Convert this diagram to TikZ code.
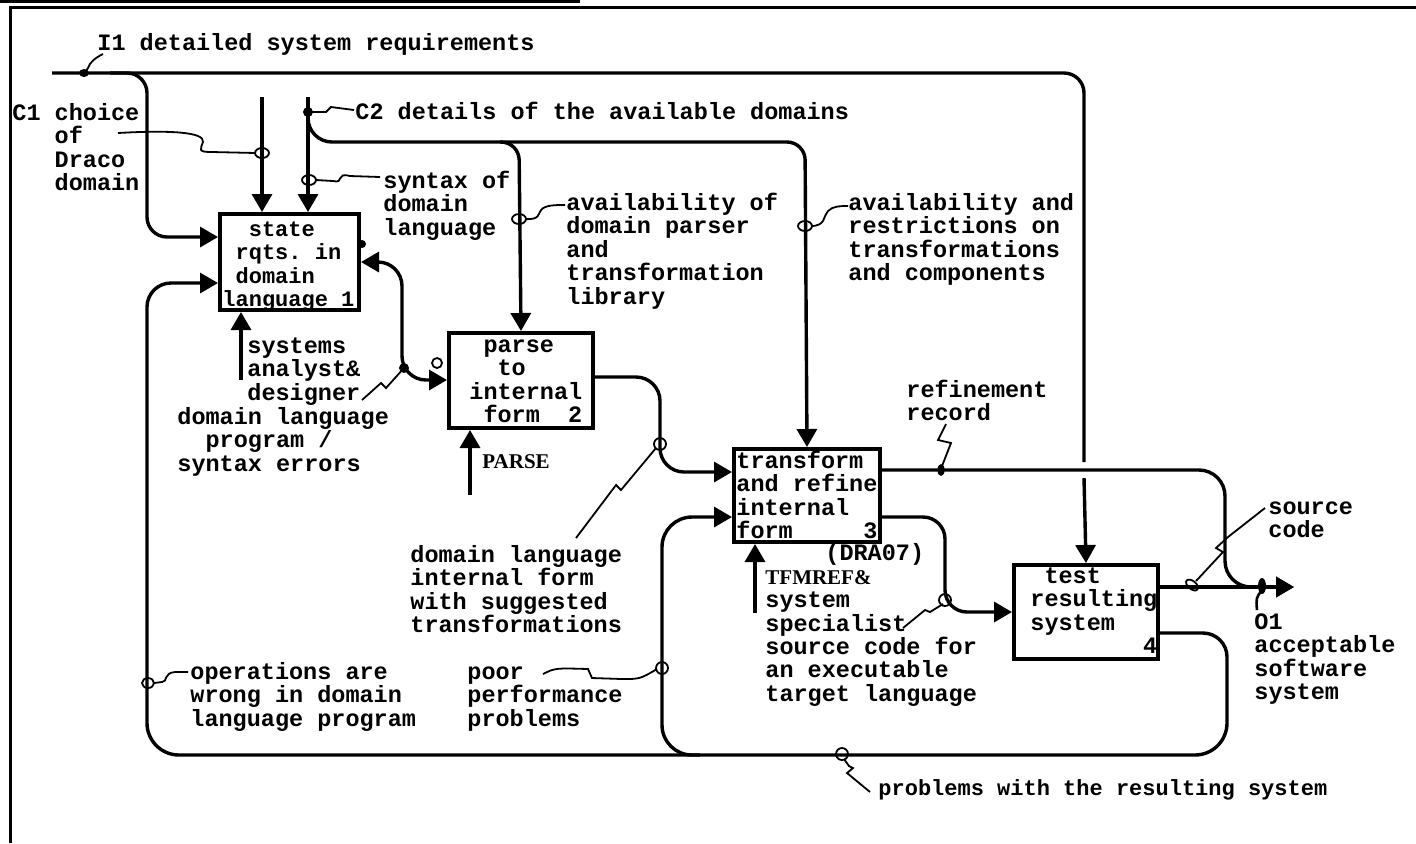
\documentclass[tikz,border=0pt]{standalone}
\usepackage{fontspec}
\setmonofont{Liberation Mono}
\newfontfamily\parsefont{Liberation Serif}
\usetikzlibrary{arrows.meta}

\tikzset{
  flow/.style={line width=1.7pt, rounded corners=10pt, ->},
  line/.style={line width=1.7pt, rounded corners=10pt},
  fbox/.style={draw, line width=2pt, inner sep=0pt, anchor=north west},
  % multi-line texts are placed by the baseline of their last line
  txt/.style={font=\ttfamily\bfseries\fontsize{11.75}{11.75}\selectfont, align=left, anchor=base west, inner sep=0pt},
  squig/.style={line width=0.9pt}
}

\begin{document}
\begin{tikzpicture}[x=0.5pt, y=-0.5pt, >={Triangle[length=9pt,width=10pt]}]
\useasboundingbox (0,0) rectangle (1416,843);
% frame
\draw[line width=1.5pt] (0,1.5) -- (580,1.5);
\draw[line width=1.5pt] (10,843) -- (10,7) -- (1416,7);

% activity boxes
\node[fbox, minimum width=69.5pt, minimum height=48pt] (box1) at (218,212) {};
\node[fbox, minimum width=72pt, minimum height=47.5pt] (box2) at (447,331) {};
\node[fbox, minimum width=73pt, minimum height=46.5pt] (box3) at (732,447) {};
\node[fbox, minimum width=72pt, minimum height=47pt] (box4) at (1012,563) {};

\node[txt, font=\ttfamily\bfseries\fontsize{11}{11.75}\selectfont] (box1txt) at (222,306.5) {~~state\\~rqts. in\\~domain\\language 1};
\node[txt] (box2txt) at (469,422.5) {~parse\\~~to\\internal\\~form~~2};
\node[txt] (box3txt) at (736,538.5) {transform\\and refine\\internal\\form~~~~~3};
\node[txt] (box4txt) at (1030,653.5) {~test\\resulting\\system\\~~~~~~~~4};
\node[txt] (dratxt) at (825,560) {(DRA07)};

% labels
\node[txt] (i1txt) at (97,50) {I1 detailed system requirements};
\node[txt] (c1txt) at (12,190.5) {C1 choice\\~~~of\\~~~Draco\\~~~domain};
\node[txt] (c2txt) at (355,119) {C2 details of the available domains};
\node[txt] (syntxt) at (383,235) {syntax of\\domain\\language};
\node[txt] (avtxt) at (566,304) {availability of\\domain parser\\and\\transformation\\library};
\node[txt] (restxt) at (848,280.5) {availability and\\restrictions on\\transformations\\and components};
\node[txt] (systxt) at (247,400) {systems\\analyst\&\\designer};
\node[txt] (progtxt) at (177,471) {domain language\\~~program /\\syntax errors};
\node[txt, font=\parsefont\bfseries\fontsize{10.5}{11.75}\selectfont] (parsetxt) at (482,468) {PARSE};
\node[txt] (tfmtxt) at (765,631) {{\parsefont\fontsize{10.5}{11.75}\selectfont TFMREF\&}\\system\\specialist};
\node[txt] (srctxt) at (765,701) {source code for\\an executable\\target language};
\node[txt] (reftxt) at (906,420.5) {refinement\\record};
\node[txt] (sctxt) at (1268,537.5) {source\\code};
\node[txt] (o1txt) at (1254,699.5) {O1\\acceptable\\software\\system};
\node[txt] (optxt) at (190,726) {operations are\\wrong in domain\\language program};
\node[txt] (poortxt) at (467,726) {poor\\performance\\problems};
\node[txt] (dltxt) at (410,632.5) {domain language\\internal form\\with suggested\\transformations};
\node[txt, font=\ttfamily\bfseries\fontsize{11}{11.75}\selectfont] (probtxt) at (878,795) {problems with the resulting system};

% I1 input
\draw[line] (52,73) -- (1084,73) -- (1084,462);
\draw[flow] (1084,478) -- (box4.north);
\coordinate (i1a) at (147,237);
\draw[flow] (110,73) -- (147,73) -- (i1a) -- (i1a -| box1.west);

% controls
\coordinate (c1) at (262,97);
\draw[flow] (c1) -- (c1 |- box1.north);
\coordinate (c2) at (308,97);
\draw[flow] (c2) -- (c2 |- box1.north);
\draw[flow] (308,105) [rounded corners=12pt] -- (308,142) [rounded corners=9pt] -- (519,142) -- (box2.north);
\draw[flow, rounded corners=9pt] (500,142) -- (805,142) -- (box3.north);

% mechanisms
\coordinate (m1) at (241,380);
\draw[flow] (m1) -- (m1 |- box1.south);
\coordinate (m2) at (470,495);
\draw[flow] (m2) -- (m2 |- box2.south);
\coordinate (m3) at (755,613);
\draw[flow] (m3) -- (m3 |- box3.south);

% box 1 <-> box 2
\coordinate (j12) at (402,262);
\coordinate (j12b) at (402,380);
\draw[line, <->, rounded corners=12pt] (j12 -| box1.east) -- (j12) -- (j12b) -- (j12b -| box2.west);

% box 2 -> box 3
\coordinate (o2) at (660,377);
\coordinate (o2b) at (660,472);
\draw[flow, rounded corners=12pt] (o2 -| box2.east) -- (o2) -- (o2b) -- (o2b -| box3.west);

% box 3 outputs
\coordinate (o3) at (1225,470);
\coordinate (o1) at (1294,587);
\draw[flow, rounded corners=13pt] (o3 -| box3.east) -- (o3) -- (1225,587) -- (o1);
\coordinate (o3b) at (945,517);
\coordinate (o3c) at (945,612);
\draw[flow, rounded corners=11pt] (o3b -| box3.east) -- (o3b) -- (o3c) -- (o3c -| box4.west);

% box 4 outputs
\draw[flow] (o1 -| box4.east) -- (o1);
\coordinate (fb) at (1227,633);
\coordinate (fb1) at (147,283);
\draw[flow] (fb -| box4.east) [rounded corners=12pt] -- (fb) [rounded corners=16pt] -- (1227,755) -- (147,755) [rounded corners=12pt] -- (fb1) -- (fb1 -| box1.west);
\coordinate (fb2) at (662,517);
\draw[flow, rounded corners=15pt] (700,755) -- (662,755) -- (fb2) -- (fb2 -| box3.west);

% squiggles
\draw[squig] (103,54) .. controls (95,58) and (90,62) .. (88,68) -- (85,72);
\fill (84,73) ellipse[x radius=2.5pt, y radius=2pt];
\draw[squig] (118,133) .. controls (170,130) and (205,132) .. (203,142) .. controls (200,150) and (198,152) .. (212,152) -- (256,153);
\draw[squig] (262,153) ellipse[x radius=3.5pt, y radius=2.5pt];
\fill (308,112) circle[radius=2.5pt];
\draw[squig] (308,112) -- (326,112) -- (331,107) -- (354,110);
\draw[squig] (309,180) ellipse[x radius=3.5pt, y radius=2.5pt];
\draw[squig] (316,180) -- (333,181) .. controls (345,184) and (335,172) .. (350,176) -- (380,177);
\draw[squig] (519,219) ellipse[x radius=3.5pt, y radius=2.5pt];
\draw[squig] (525,219) .. controls (540,220) and (538,214) .. (541,210) .. controls (545,205) and (555,205) .. (565,205);
\draw[squig] (805,226) ellipse[x radius=3.5pt, y radius=2.5pt];
\draw[squig] (811,226) .. controls (826,226) and (823,216) .. (828,211) .. controls (833,206) and (840,206) .. (848,206);
\draw[squig] (946,424) -- (938,440) -- (951,443) -- (942,466);
\fill (941,470) ellipse[x radius=1.8pt, y radius=3pt];
\draw[squig] (362,400) -- (381,383) -- (386,388) -- (404,368);
\fill (404,368) circle[radius=2.5pt];
\draw[squig] (576,538) -- (616,485) -- (621,490) -- (656,448);
\draw[squig] (660,444) circle[radius=3pt];
\draw[squig] (903,628) -- (925,610) -- (930,612) -- (943,604);
\draw[squig] (945,600) circle[radius=3pt];
\draw[squig] (1265,508) -- (1228,537) -- (1216,548) -- (1223,552) -- (1196,581);
\draw[squig, rotate around={-40:(1192,585)}] (1192,585) ellipse[x radius=3.5pt, y radius=2pt];
\fill (1262,586) ellipse[x radius=2pt, y radius=4pt];
\draw[squig, line width=1.3pt] (1262,590) .. controls (1256,598) .. (1257,610);
\draw[squig] (148,683) ellipse[x radius=3pt, y radius=2.5pt];
\draw[squig] (154,683) -- (162,682) .. controls (168,682) and (163,673) .. (175,672) -- (188,672);
\draw[squig] (543,674) .. controls (555,668) .. (588,669) -- (592,678) -- (622,679) .. controls (640,679) .. (657,669);
\draw[squig] (662,668) circle[radius=3pt];
\draw[squig] (842,754) circle[radius=3pt];
\draw[squig] (844,759) -- (849,766) -- (853,768) -- (847,773) -- (870,792);

% small marks
\fill (362,244) circle[radius=2pt];
\draw[squig] (437,363) circle[radius=2.5pt];
\end{tikzpicture}
\end{document}
